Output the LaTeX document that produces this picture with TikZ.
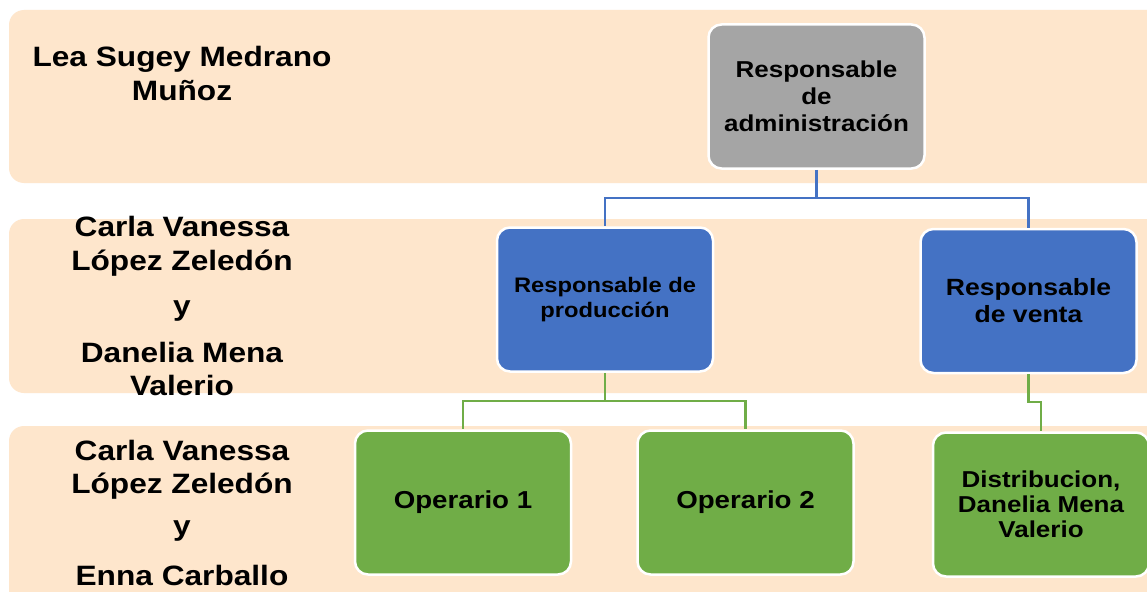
\documentclass[tikz,border=0pt]{standalone}
\usepackage{fontspec}
\setmainfont[FakeStretch=1.13]{Liberation Sans}
\definecolor{bandc}{RGB}{254,230,204}
\definecolor{grayc}{RGB}{165,165,165}
\definecolor{bluec}{RGB}{68,114,196}
\definecolor{greenc}{RGB}{112,173,71}
\begin{document}
\begin{tikzpicture}[x=1pt,y=-1pt,
  band/.style={fill=bandc, rounded corners=15pt},
  box/.style={draw=white, line width=2.5pt, rounded corners=13pt, minimum width=216pt, minimum height=144pt, inner sep=0pt, align=center},
  lbl/.style={anchor=base, inner sep=0pt, font=\fontsize{28}{33}\selectfont\bfseries},
  bl/.style={draw=bluec, line width=2.5pt},
  gl/.style={draw=greenc, line width=2.5pt}]
\clip (0,0) rectangle (1147,591);
\fill[white] (0,0) rectangle (1147,591);
% bands
\fill[band] (9,10) rectangle (1175,183);
\fill[band] (9,219) rectangle (1175,393);
\fill[band] (9,426) rectangle (1175,620);
% band labels
\node[lbl] (l1a) at (182,67) {Lea Sugey Medrano};
\node[lbl] (l1b) at (182,100) {Muñoz};
\node[lbl] (l2a) at (182,236) {Carla Vanessa};
\node[lbl] (l2b) at (182,270) {López Zeledón};
\node[lbl] (l2c) at (182,315) {y};
\node[lbl] (l2d) at (182,362) {Danelia Mena};
\node[lbl] (l2e) at (182,395) {Valerio};
\node[lbl] (l3a) at (182,460) {Carla Vanessa};
\node[lbl] (l3b) at (182,493) {López Zeledón};
\node[lbl] (l3c) at (182,535) {y};
\node[lbl] (l3d) at (182,585) {Enna Carballo};
% boxes
\node[box, fill=grayc, font=\fontsize{23}{27}\selectfont\bfseries] (admin) at (816.5,96.5) {Responsable\\de\\administración};
\node[box, fill=bluec, font=\fontsize{21}{25}\selectfont\bfseries] (prod) at (605,299.5) {Responsable de\\producción};
\node[box, fill=bluec, font=\fontsize{23.5}{27}\selectfont\bfseries] (venta) at (1028.5,301) {Responsable\\de venta};
\node[box, fill=greenc, font=\fontsize{24.5}{29}\selectfont\bfseries] (op1) at (463,502.5) {Operario 1};
\node[box, fill=greenc, font=\fontsize{24.5}{29}\selectfont\bfseries] (op2) at (745.5,502.5) {Operario 2};
\node[box, fill=greenc, font=\fontsize{23}{25}\selectfont\bfseries] (dist) at (1041,504.5) {Distribucion,\\Danelia Mena\\Valerio};
% connectors
\coordinate (j1) at (816.5,198);
\coordinate (j2) at (605,401);
\coordinate (j3) at (1028.5,402);
\draw[bl] (admin.south) -- (j1);
\draw[bl] (j1) -| (prod.north);
\draw[bl] (j1) -| (venta.north);
\draw[gl] (prod.south) -- (j2);
\draw[gl] (j2) -| (op1.north);
\draw[gl] (j2) -| (op2.north);
\draw[gl] (venta.south) -- (j3) -| (dist.north);
\end{tikzpicture}
\end{document}
